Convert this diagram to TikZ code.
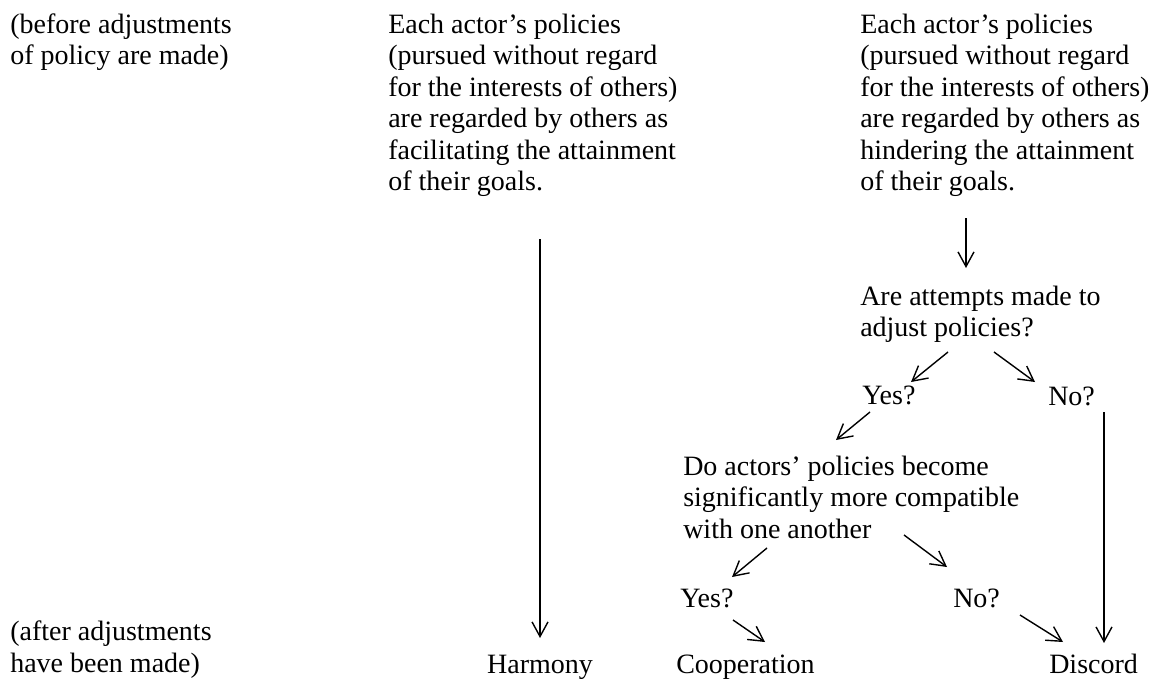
\documentclass[tikz,border=0pt]{standalone}
\usepackage{fontspec}
\setmainfont{Liberation Serif}
\usetikzlibrary{arrows.meta}
\begin{document}
\begin{tikzpicture}[x=0.75pt,y=-0.75pt,
  txt/.style={inner sep=0pt, anchor=north west, align=left, font=\fontsize{21}{23.6}\selectfont},
  lbl/.style={inner sep=0pt, anchor=base west, font=\fontsize{21}{23.6}\selectfont},
  arr/.style={-{Straight Barb[length=11pt,width=12pt]}, line width=1.05pt}]
\useasboundingbox (0,0) rectangle (1166,678);
% texts
\node[txt] (before) at (10,13.5) {(before adjustments\\of policy are made)};
\node[txt] (facil) at (388,13.5) {Each actor’s policies\\(pursued without regard\\for the interests of others)\\are regarded by others as\\facilitating the attainment\\of their goals.};
\node[txt] (hinder) at (860,13.5) {Each actor’s policies\\(pursued without regard\\for the interests of others)\\are regarded by others as\\hindering the attainment\\of their goals.};
\node[txt] (after) at (10,621) {(after adjustments\\have been made)};
\node[lbl, anchor=base] (harmony) at (540,673) {Harmony};
\node[lbl] (coop) at (676,673) {Cooperation};
\node[lbl] (discord) at (1049,673) {Discord};
\node[txt] (attempt) at (860,285.5) {Are attempts made to\\adjust policies?};
\node[lbl] (yes1) at (862,404) {Yes?};
\node[lbl] (no1) at (1048,405) {No?};
\node[txt] (compat) at (683,455.5) {Do actors’ policies become\\significantly more compatible\\with one another};
\node[lbl] (yes2) at (680,607) {Yes?};
\node[lbl] (no2) at (953,607) {No?};
% arrow end points
\coordinate (h1) at (540,239); \coordinate (h2) at (540,638);
\coordinate (r1) at (966,218); \coordinate (r2) at (966,268);
\coordinate (y1a) at (948,352); \coordinate (y1b) at (911,382);
\coordinate (n1a) at (994,352); \coordinate (n1b) at (1035,382);
\coordinate (y1c) at (870,412); \coordinate (y1d) at (836,440);
\coordinate (y2a) at (767,548); \coordinate (y2b) at (732,577);
\coordinate (n2a) at (904,535); \coordinate (n2b) at (947,567);
\coordinate (y2c) at (733,620); \coordinate (y2d) at (765,642);
\coordinate (n2c) at (1020,615); \coordinate (n2d) at (1063,642);
\coordinate (n1c) at (1104,412); \coordinate (n1d) at (1104,643);
% arrows
\draw[arr] (h1) -- (h2);
\draw[arr] (r1) -- (r2);
\draw[arr] (y1a) -- (y1b);
\draw[arr] (n1a) -- (n1b);
\draw[arr] (y1c) -- (y1d);
\draw[arr] (y2a) -- (y2b);
\draw[arr] (n2a) -- (n2b);
\draw[arr] (y2c) -- (y2d);
\draw[arr] (n2c) -- (n2d);
\draw[arr] (n1c) -- (n1d);
\end{tikzpicture}
\end{document}
